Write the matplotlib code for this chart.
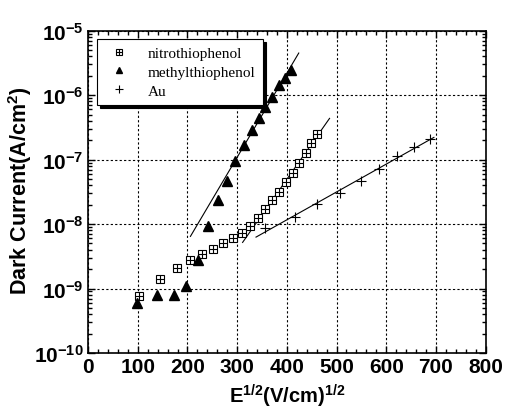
import numpy as np
import matplotlib
matplotlib.use("Agg")
import matplotlib.pyplot as plt
from matplotlib.ticker import MultipleLocator, LogLocator, NullFormatter, FixedLocator

plt.rcParams["font.family"] = ["Liberation Sans", "DejaVu Sans"]
plt.rcParams["font.weight"] = "bold"
plt.rcParams["mathtext.fontset"] = "custom"
plt.rcParams["mathtext.rm"] = "Liberation Sans:bold"
plt.rcParams["mathtext.bf"] = "Liberation Sans:bold"
plt.rcParams["mathtext.default"] = "bf"

# nitrothiophenol
x_nitro = np.array([103, 145, 178, 206, 229, 251, 272, 292, 310, 325,
                    342, 357, 371, 385, 398, 412, 425, 438, 449, 461])
j_nitro = np.array([7.7e-10, 1.42e-9, 2.08e-9, 2.74e-9, 3.4e-9, 4.1e-9, 5.0e-9, 6.1e-9, 7.4e-9, 9.4e-9,
                    1.24e-8, 1.71e-8, 2.37e-8, 3.2e-8, 4.45e-8, 6.2e-8, 8.9e-8, 1.27e-7, 1.81e-7, 2.52e-7])
# methylthiophenol
x_methyl = np.array([98, 138, 172, 198, 221, 241, 262, 279, 296, 313,
                     329, 344, 357, 370, 384, 397, 409])
j_methyl = np.array([5.9e-10, 8.0e-10, 8.0e-10, 1.08e-9, 2.8e-9, 9.2e-9, 2.34e-8, 4.7e-8, 9.6e-8, 1.7e-7,
                     2.9e-7, 4.4e-7, 6.5e-7, 9.5e-7, 1.45e-6, 1.83e-6, 2.43e-6])
# Au
x_au = np.array([357, 416, 461, 507, 549, 586, 621, 655, 688])
j_au = np.array([8.8e-9, 1.30e-8, 2.07e-8, 3.0e-8, 4.7e-8, 7.2e-8, 1.12e-7, 1.58e-7, 2.09e-7])

# linear fits of log(J) vs E^1/2: (points used from x >=, line drawn over)
fit_nitro = (342, [311, 486])
fit_methyl = (279, [206, 424])
fit_au = (300, [338, 696])

xticks = [0, 100, 200, 300, 400, 500, 600, 700, 800]
yticks = [1e-10, 1e-9, 1e-8, 1e-7, 1e-6, 1e-5]
ytick_labels = [r"$10^{-10}$", r"$10^{-9}$", r"$10^{-8}$", r"$10^{-7}$", r"$10^{-6}$", r"$10^{-5}$"]

fig = plt.figure(figsize=(5.09, 4.10), dpi=100)
ax = fig.add_axes([0.173, 0.1366, 0.781, 0.7861])


def fit_line(x, j, fit):
    xmin, span = fit
    m = x >= xmin
    p = np.polyfit(x[m], np.log10(j[m]), 1)
    xs = np.array(span, dtype=float)
    return xs, 10 ** np.polyval(p, xs)


for x, j, fit in [(x_nitro, j_nitro, fit_nitro), (x_methyl, j_methyl, fit_methyl), (x_au, j_au, fit_au)]:
    xs, ys = fit_line(x, j, fit)
    ax.plot(xs, ys, "-", color="black", lw=0.8)

h_sq, = ax.plot(x_nitro, j_nitro, "s", ms=6, mfc="white", mec="black", mew=0.8, ls="none")
h_sqp, = ax.plot(x_nitro, j_nitro, "+", ms=6, color="black", mew=0.8, ls="none")
h_tri, = ax.plot(x_methyl, j_methyl, "^", ms=6.5, color="black", ls="none")
h_au, = ax.plot(x_au, j_au, "+", ms=7.5, color="black", mew=0.8, ls="none")

ax.set_yscale("log")
ax.set_xlim(0, 800)
ax.set_ylim(1e-10, 1e-5)
ax.xaxis.set_major_locator(FixedLocator(xticks))
ax.xaxis.set_minor_locator(MultipleLocator(20))
ax.set_xticklabels([str(t) for t in xticks])
ax.yaxis.set_major_locator(FixedLocator(yticks))
ax.set_yticklabels(ytick_labels)
ax.yaxis.set_minor_locator(LogLocator(base=10, subs=np.arange(2, 10), numticks=20))
ax.yaxis.set_minor_formatter(NullFormatter())

ax.tick_params(which="both", direction="in", top=True, right=True, labelsize=15, width=1)
ax.tick_params(which="major", length=5, pad=3)
ax.tick_params(which="minor", length=3)
for s in ax.spines.values():
    s.set_linewidth(1.2)
ax.grid(True, which="major", ls=(0, (2, 2)), color="black", lw=0.8)

ax.set_xlabel(r"E$^{1/2}$(V/cm)$^{1/2}$", fontsize=14.5, fontweight="bold", labelpad=4)
ax.set_ylabel(r"Dark Current(A/cm$^2$)", fontsize=15.5, fontweight="bold")
ax.yaxis.set_label_coords(-0.135, 0.505)

leg = ax.legend([(h_sq, h_sqp), h_tri, h_au],
                ["nitrothiophenol", "methylthiophenol", "Au"],
                loc="upper left", bbox_to_anchor=(0.023, 0.975), borderaxespad=0,
                prop={"family": "Liberation Serif", "size": 11, "weight": "normal"},
                fancybox=False, edgecolor="black", framealpha=1,
                shadow={"color": "black", "alpha": 1}, markerscale=0.7,
                handlelength=1.8, handletextpad=1.0, labelspacing=0.33, borderpad=0.5)
leg.get_frame().set_linewidth(0.8)

fig.savefig("out.png", dpi=100)
